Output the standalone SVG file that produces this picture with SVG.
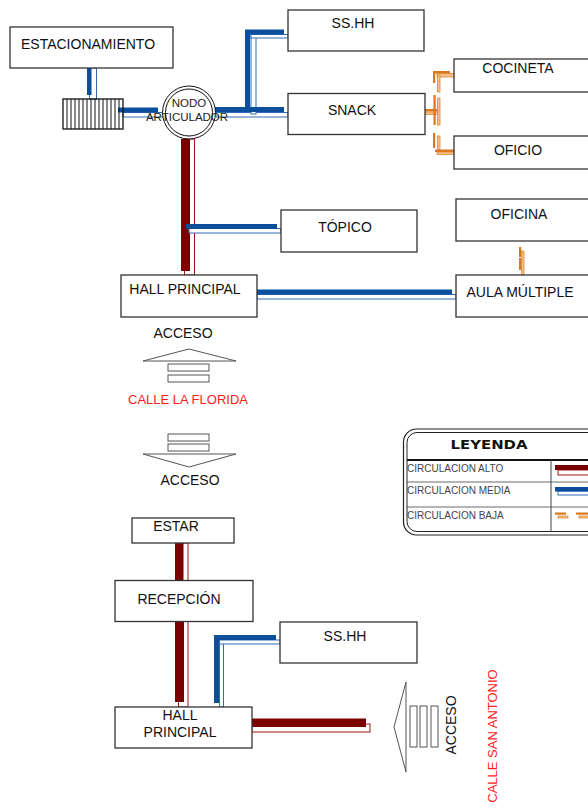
<svg xmlns="http://www.w3.org/2000/svg" width="588" height="811" viewBox="0 0 588 811">
<style>
.box{fill:#fff;stroke:#333;stroke-width:1.3}
.lbl{font-family:"Liberation Sans",Arial,sans-serif;font-size:14px;fill:#111;text-anchor:middle}
.rd{fill:#7a0000}
.rdo{fill:#fff;stroke:#a31515;stroke-width:1}
.bl{fill:#0b4f9c}
.blo{fill:#fff;stroke:#2e6cb3;stroke-width:1}
.or{fill:#d9781c}
.oro{fill:#f5c08a;stroke:#e08a30;stroke-width:0.8}
.lg{font-family:"Liberation Sans",Arial,sans-serif;font-size:10px;fill:#444}
.red{font-family:"Liberation Sans",Arial,sans-serif;font-size:13px;fill:#ff1a1a}
</style>

<g id="connectors">
  <!-- estacionamiento to grate -->
  <rect class="blo" x="89.5" y="68" width="7" height="31"/>
  <rect class="bl" x="87" y="65" width="4.5" height="30"/>
  <!-- grate to nodo -->
  <rect class="blo" x="123" y="112.5" width="40" height="4.5"/>
  <rect class="bl" x="118" y="107.5" width="40" height="5"/>
  <!-- nodo to snack / ss.hh -->
  <rect class="blo" x="216" y="112.5" width="72" height="4.5"/>
  <rect class="blo" x="251" y="35" width="5" height="79"/>
  <rect class="blo" x="251" y="34.5" width="37" height="3.5"/>
  <rect class="bl" x="245" y="30" width="5" height="82"/>
  <rect class="bl" x="245" y="29.5" width="39" height="5"/>
  <rect class="bl" x="213" y="107" width="71" height="5"/>
  <!-- snack to cocineta / oficio (orange) -->
  <rect class="oro" x="437" y="73.5" width="17" height="3.5"/>
  <rect class="oro" x="437.5" y="75" width="2.5" height="17"/>
  <rect class="or" x="433" y="71" width="17" height="2.5"/>
  <rect class="or" x="433" y="71" width="2.2" height="12"/>
  <rect class="oro" x="425" y="112" width="14" height="2.5"/>
  <rect class="or" x="421" y="109" width="18" height="2.5"/>
  <rect class="oro" x="437.5" y="98" width="2.5" height="27"/>
  <rect class="or" x="433.5" y="95" width="2.2" height="30"/>
  <rect class="oro" x="437.5" y="136" width="2.5" height="16"/>
  <rect class="or" x="433" y="133" width="2.2" height="15"/>
  <rect class="oro" x="437" y="152" width="17" height="2.5"/>
  <rect class="or" x="435" y="149.5" width="19" height="2.5"/>
  <!-- nodo to hall principal (red) -->
  <rect class="rdo" x="184.5" y="139" width="10" height="136"/>
  <rect class="rd" x="181" y="139" width="9" height="132"/>
  <!-- to topico -->
  <rect class="blo" x="189" y="228.5" width="92" height="4.5"/>
  <rect class="bl" x="186" y="224" width="91" height="5"/>
  <!-- hall to aula -->
  <rect class="blo" x="257" y="294.5" width="199" height="4.5"/>
  <rect class="bl" x="254" y="289.5" width="198" height="5"/>
  <!-- oficina to aula (orange) -->
  <rect class="oro" x="521.5" y="251" width="2.5" height="10"/>
  <rect class="or" x="519" y="247" width="2.2" height="10"/>
  <rect class="oro" x="521.5" y="262" width="2.5" height="13"/>
  <rect class="or" x="519" y="258" width="2.2" height="12"/>
  <!-- estar to recepcion -->
  <rect class="rdo" x="178.5" y="543" width="9.5" height="38"/>
  <rect class="rd" x="175" y="539" width="8.5" height="41"/>
  <!-- recepcion to hall -->
  <rect class="rdo" x="178.5" y="621" width="9.5" height="86"/>
  <rect class="rd" x="175" y="618" width="9" height="84"/>
  <!-- hall to ss.hh lower -->
  <rect class="blo" x="219.5" y="642" width="4" height="65"/>
  <rect class="blo" x="219.5" y="640" width="60.5" height="4"/>
  <rect class="bl" x="214" y="635" width="5" height="68"/>
  <rect class="bl" x="214" y="635" width="62" height="5"/>
  <!-- hall to acceso (red) -->
  <rect class="rdo" x="252" y="724" width="118" height="8"/>
  <rect class="rd" x="248" y="718.5" width="118" height="8.5"/>
</g>

<g id="estacionamiento">
  <rect class="box" x="10" y="27" width="163" height="41"/>
  <text class="lbl" x="88" y="49">ESTACIONAMIENTO</text>
</g>

<g id="rejilla" fill="none" stroke="#111" stroke-width="1">
  <rect x="63" y="99" width="60" height="30" stroke-width="1.3"/>
  <path d="M67 99V129M71 99V129M75 99V129M79 99V129M83 99V129M87 99V129M91 99V129M95 99V129M99 99V129M103 99V129M107 99V129M111 99V129M115 99V129M119 99V129"/>
</g>

<g id="nodo">
  <circle cx="189" cy="112.5" r="26.5" fill="#fff" stroke="#111" stroke-width="1"/>
  <circle cx="189" cy="112.5" r="23.5" fill="none" stroke="#111" stroke-width="1"/>
  <text x="189" y="107" font-family="Liberation Sans,Arial,sans-serif" font-size="11.5" fill="#222" text-anchor="middle">NODO</text>
  <text x="187" y="121" font-family="Liberation Sans,Arial,sans-serif" font-size="11.5" fill="#222" text-anchor="middle">ARTICULADOR</text>
</g>

<g id="sshh1">
  <rect class="box" x="288" y="10" width="136" height="41"/>
  <text class="lbl" x="353" y="28">SS.HH</text>
</g>
<g id="snack">
  <rect class="box" x="288" y="93.5" width="137" height="41"/>
  <text class="lbl" x="352" y="115">SNACK</text>
</g>
<g id="cocineta">
  <rect class="box" x="454" y="59" width="140" height="33"/>
  <text class="lbl" x="518" y="73">COCINETA</text>
</g>
<g id="oficio">
  <rect class="box" x="454" y="136" width="140" height="33"/>
  <text class="lbl" x="518" y="155">OFICIO</text>
</g>
<g id="topico">
  <rect class="box" x="281" y="210" width="136" height="42"/>
  <text class="lbl" x="345" y="232">TÓPICO</text>
</g>
<g id="oficina">
  <rect class="box" x="456" y="199" width="138" height="42"/>
  <text class="lbl" x="519" y="219">OFICINA</text>
</g>
<g id="hall1">
  <rect class="box" x="121" y="275" width="136" height="42"/>
  <text class="lbl" x="185" y="294">HALL PRINCIPAL</text>
</g>
<g id="aula">
  <rect class="box" x="456" y="275" width="138" height="42"/>
  <text class="lbl" x="520" y="297">AULA MÚLTIPLE</text>
</g>

<g id="acceso-florida" fill="#fff" stroke="#555" stroke-width="1">
  <text class="lbl" x="183" y="338" stroke="none">ACCESO</text>
  <path d="M143 361L189 349L236 361Z"/>
  <rect x="168" y="364" width="41" height="7"/>
  <rect x="168" y="375" width="41" height="7"/>
  <text class="red" x="188" y="404" stroke="none" text-anchor="middle">CALLE LA FLORIDA</text>
  <rect x="168" y="434" width="41" height="7"/>
  <rect x="168" y="444" width="41" height="7"/>
  <path d="M143 454L236 454L189 467Z"/>
  <text class="lbl" x="190" y="485" stroke="none">ACCESO</text>
</g>

<g id="leyenda">
  <rect x="403.5" y="429" width="200" height="106" rx="13" fill="#fff" stroke="#222" stroke-width="1.2"/>
  <rect x="407" y="432.5" width="200" height="99" rx="10" fill="none" stroke="#222" stroke-width="1"/>
  <text x="489" y="449" font-family="DejaVu Sans,Verdana,sans-serif" font-weight="bold" font-size="11.5" fill="#111" text-anchor="middle" textLength="77" lengthAdjust="spacingAndGlyphs">LEYENDA</text>
  <line x1="407" y1="460" x2="588" y2="460" stroke="#111" stroke-width="2"/>
  <line x1="407" y1="482" x2="588" y2="482" stroke="#444" stroke-width="0.8"/>
  <line x1="407" y1="507" x2="588" y2="507" stroke="#444" stroke-width="0.8"/>
  <line x1="551" y1="460" x2="551" y2="532" stroke="#444" stroke-width="1"/>
  <text class="lg" x="407" y="472">CIRCULACION ALTO</text>
  <text class="lg" x="407" y="494">CIRCULACION MEDIA</text>
  <text class="lg" x="407" y="519">CIRCULACION BAJA</text>
  <rect class="rdo" x="558" y="470" width="32" height="5"/>
  <rect class="rd" x="555" y="465" width="33" height="5"/>
  <rect class="blo" x="558" y="491" width="32" height="4"/>
  <rect class="bl" x="555" y="487" width="33" height="4.5"/>
  <rect class="or" x="555" y="512.5" width="11" height="2.2"/>
  <rect class="oro" x="558" y="516" width="10" height="2"/>
  <rect class="or" x="576" y="512.5" width="12" height="2.2"/>
  <rect class="oro" x="579" y="516" width="10" height="2"/>
</g>

<g id="estar">
  <rect class="box" x="132" y="518" width="102" height="25"/>
  <text class="lbl" x="176" y="531">ESTAR</text>
</g>
<g id="recepcion">
  <rect class="box" x="115" y="580.5" width="138" height="41"/>
  <text class="lbl" x="179" y="604">RECEPCIÓN</text>
</g>
<g id="sshh2">
  <rect class="box" x="280" y="622" width="137" height="41"/>
  <text class="lbl" x="345" y="641">SS.HH</text>
</g>
<g id="hall2">
  <rect class="box" x="115" y="707" width="137" height="41"/>
  <text class="lbl" x="180" y="720">HALL</text>
  <text class="lbl" x="180" y="737">PRINCIPAL</text>
</g>

<g id="acceso-sanantonio" fill="#fff" stroke="#555" stroke-width="1">
  <path d="M406 682L394 727L406 772Z"/>
  <rect x="410" y="706" width="7" height="41"/>
  <rect x="420" y="706" width="7" height="41"/>
  <rect x="431" y="706" width="7" height="41"/>
  <text class="lbl" transform="translate(456 725) rotate(-90)" stroke="none">ACCESO</text>
  <text class="red" transform="translate(497 736) rotate(-90)" stroke="none" text-anchor="middle" font-size="14">CALLE SAN ANTONIO</text>
</g>
</svg>
